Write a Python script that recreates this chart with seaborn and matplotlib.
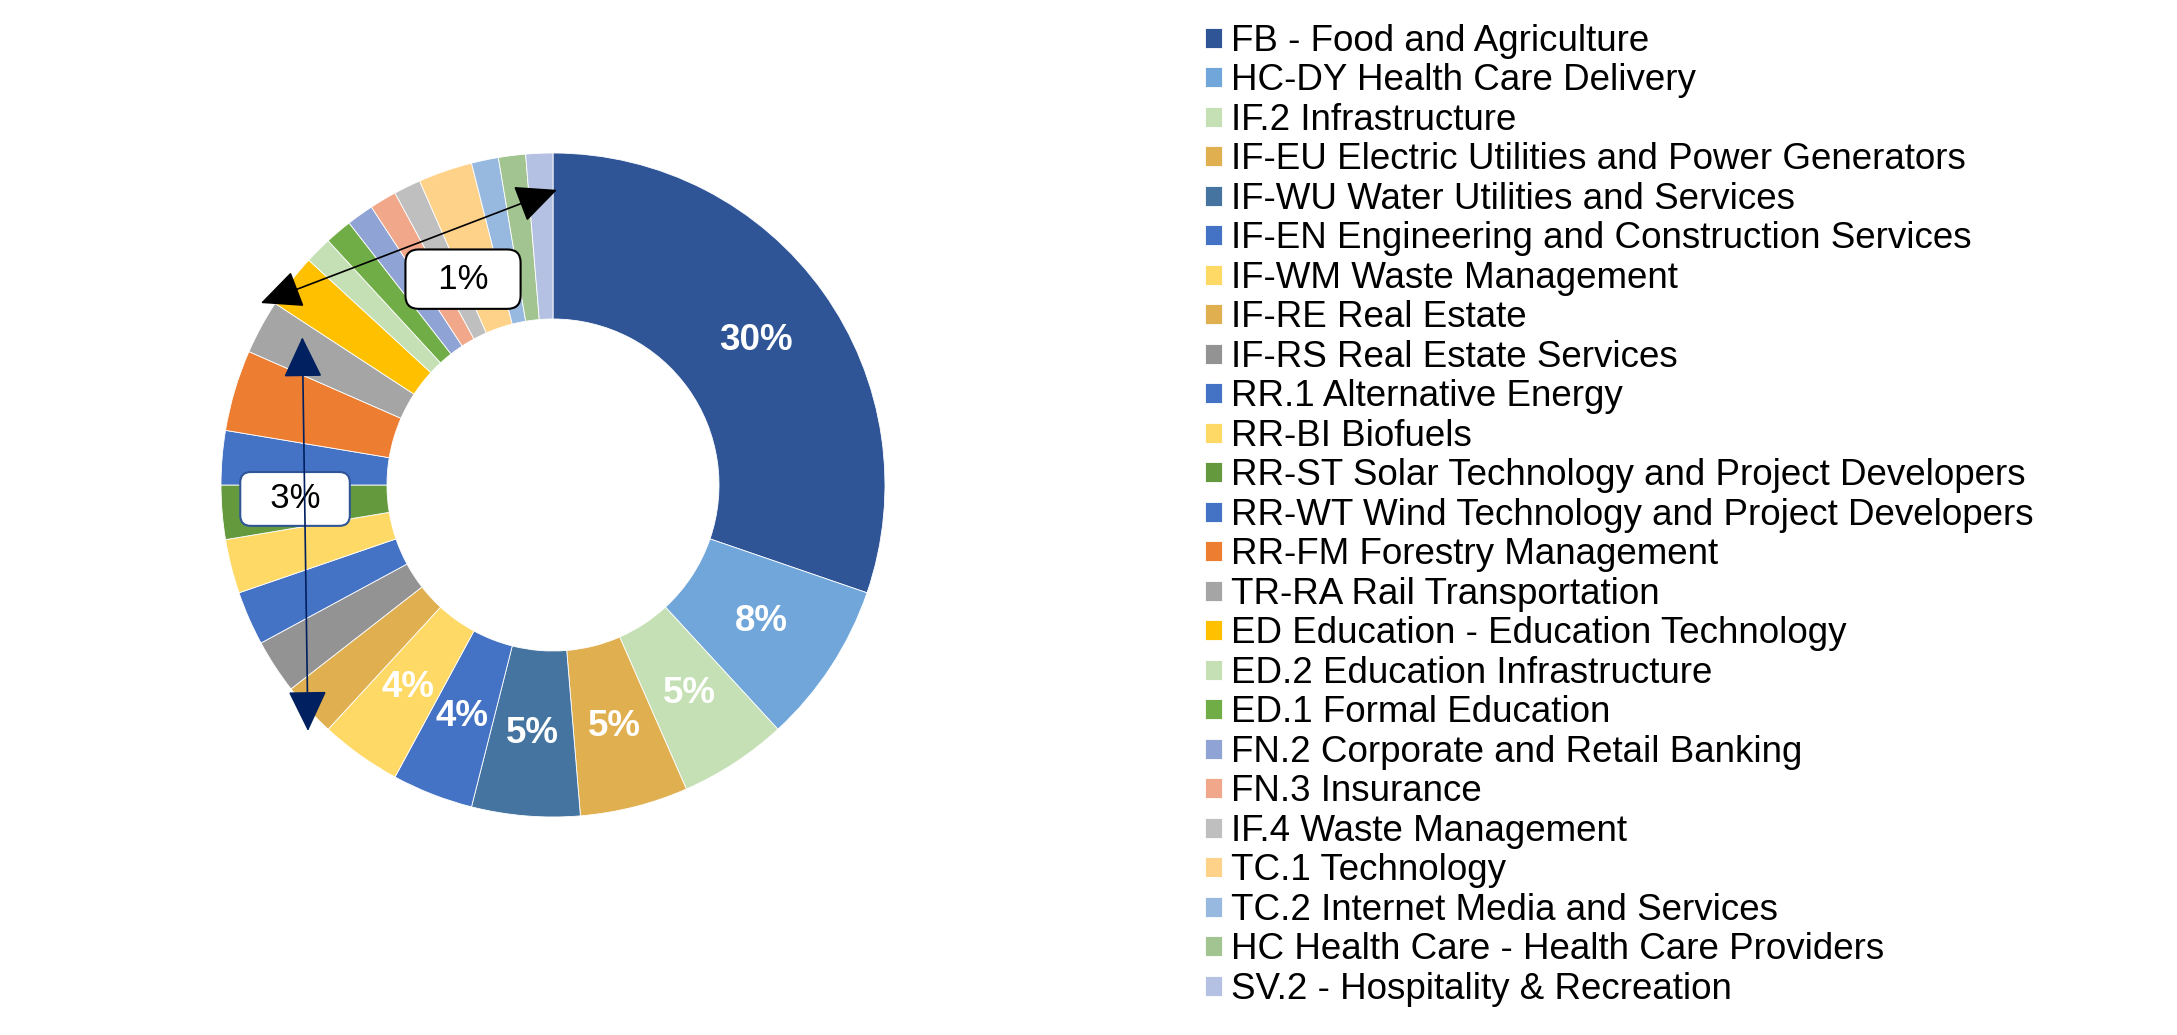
import matplotlib
matplotlib.use("Agg")
import matplotlib.pyplot as plt
import pandas as pd
import seaborn as sns

# Sektory (kolejnosc jak w legendzie, zgodnie z ruchem wskazowek od godziny 12)
sectors = [
    "FB - Food and Agriculture",
    "HC-DY Health Care Delivery",
    "IF.2 Infrastructure",
    "IF-EU Electric Utilities and Power Generators",
    "IF-WU Water Utilities and Services",
    "IF-EN Engineering and Construction Services",
    "IF-WM Waste Management",
    "IF-RE Real Estate",
    "IF-RS Real Estate Services",
    "RR.1 Alternative Energy",
    "RR-BI Biofuels",
    "RR-ST Solar Technology and Project Developers",
    "RR-WT Wind Technology and Project Developers",
    "RR-FM Forestry Management",
    "TR-RA Rail Transportation",
    "ED Education - Education Technology",
    "ED.2 Education Infrastructure",
    "ED.1 Formal Education",
    "FN.2 Corporate and Retail Banking",
    "FN.3 Insurance",
    "IF.4 Waste Management",
    "TC.1 Technology",
    "TC.2 Internet Media and Services",
    "HC Health Care - Health Care Providers",
    "SV.2 - Hospitality & Recreation",
]
counts = [23, 6, 4, 4, 4, 3, 3, 2, 2, 2, 2, 2, 2, 3, 2, 2, 1, 1, 1, 1, 1, 2, 1, 1, 1]
colors = [
    "#2F5597", "#70A6DA", "#C5E0B4", "#E0AF50", "#44749F",
    "#4472C4", "#FFD966", "#E0AF50", "#939393", "#4472C4",
    "#FFD966", "#64993D", "#4472C4", "#ED7D31", "#A5A5A5",
    "#FFC000", "#C5E0B4", "#70AD47", "#8FA3D4", "#F1A88A",
    "#BFBFBF", "#FFD28A", "#97B9E0", "#A2C490", "#B4C1E3",
]
# ktore wycinki maja etykiete procentowa w srodku
labelled = [True] * 7 + [False] * 18

df = pd.DataFrame({"sector": sectors, "count": counts, "color": colors,
                   "labelled": labelled})

sns.set_theme(style="white")
plt.rcParams["font.family"] = ["Liberation Sans", "DejaVu Sans"]
plt.rcParams["text.color"] = "black"

W, H = 2177, 1035
fig = plt.figure(figsize=(W / 100, H / 100), dpi=100)
ax = fig.add_axes([221 / W, 218 / H, 664 / W, 664 / H])

wedges, texts, autotexts = ax.pie(
    df["count"],
    colors=df["color"],
    startangle=90,
    counterclock=False,
    autopct="%1.0f%%",
    pctdistance=0.75,
    wedgeprops=dict(width=0.5, edgecolor="white", linewidth=0.6),
    textprops=dict(color="white", fontsize=26.5, fontweight="bold"),
)
for t, show in zip(autotexts, df["labelled"]):
    if not show:
        t.set_text("")

ax.set_xlim(-1, 1)
ax.set_ylim(-1, 1)
ax.set_aspect("equal")
ax.axis("off")

# Adnotacja 1%
ax.annotate(
    "", xy=(-0.88, 0.548), xytext=(0.012, 0.889),
    arrowprops=dict(arrowstyle="<|-|>,head_length=1.3,head_width=0.6",
                    color="black", lw=1.2, shrinkA=0, shrinkB=0,
                    mutation_scale=20),
    zorder=6, annotation_clip=False,
)
ax.text(-0.271, 0.620, "  1%  ", ha="center", va="center", fontsize=25,
        color="black", zorder=5,
        bbox=dict(boxstyle="round,pad=0.38", fc="white", ec="black", lw=1.5))

# Adnotacja 3%
ax.text(-0.777, -0.042, "  3%  ", ha="center", va="center", fontsize=25,
        color="black", zorder=5,
        bbox=dict(boxstyle="round,pad=0.3", fc="white", ec="#2F5597", lw=1.5))
ax.annotate(
    "", xy=(-0.738, -0.741), xytext=(-0.755, 0.445),
    arrowprops=dict(arrowstyle="<|-|>,head_length=1.3,head_width=0.62",
                    color="#002060", lw=1.2, shrinkA=0, shrinkB=0,
                    mutation_scale=20),
    zorder=7, annotation_clip=False,
)

fig.legend(
    wedges, df["sector"],
    loc="upper left", bbox_to_anchor=(1205 / W, 1 - 24 / H),
    frameon=False, fontsize=26.5,
    handlelength=0.46, handleheight=0.46, handletextpad=0.25,
    labelspacing=0.122, borderpad=0, borderaxespad=0,
)

fig.savefig("out.png", dpi=100)
